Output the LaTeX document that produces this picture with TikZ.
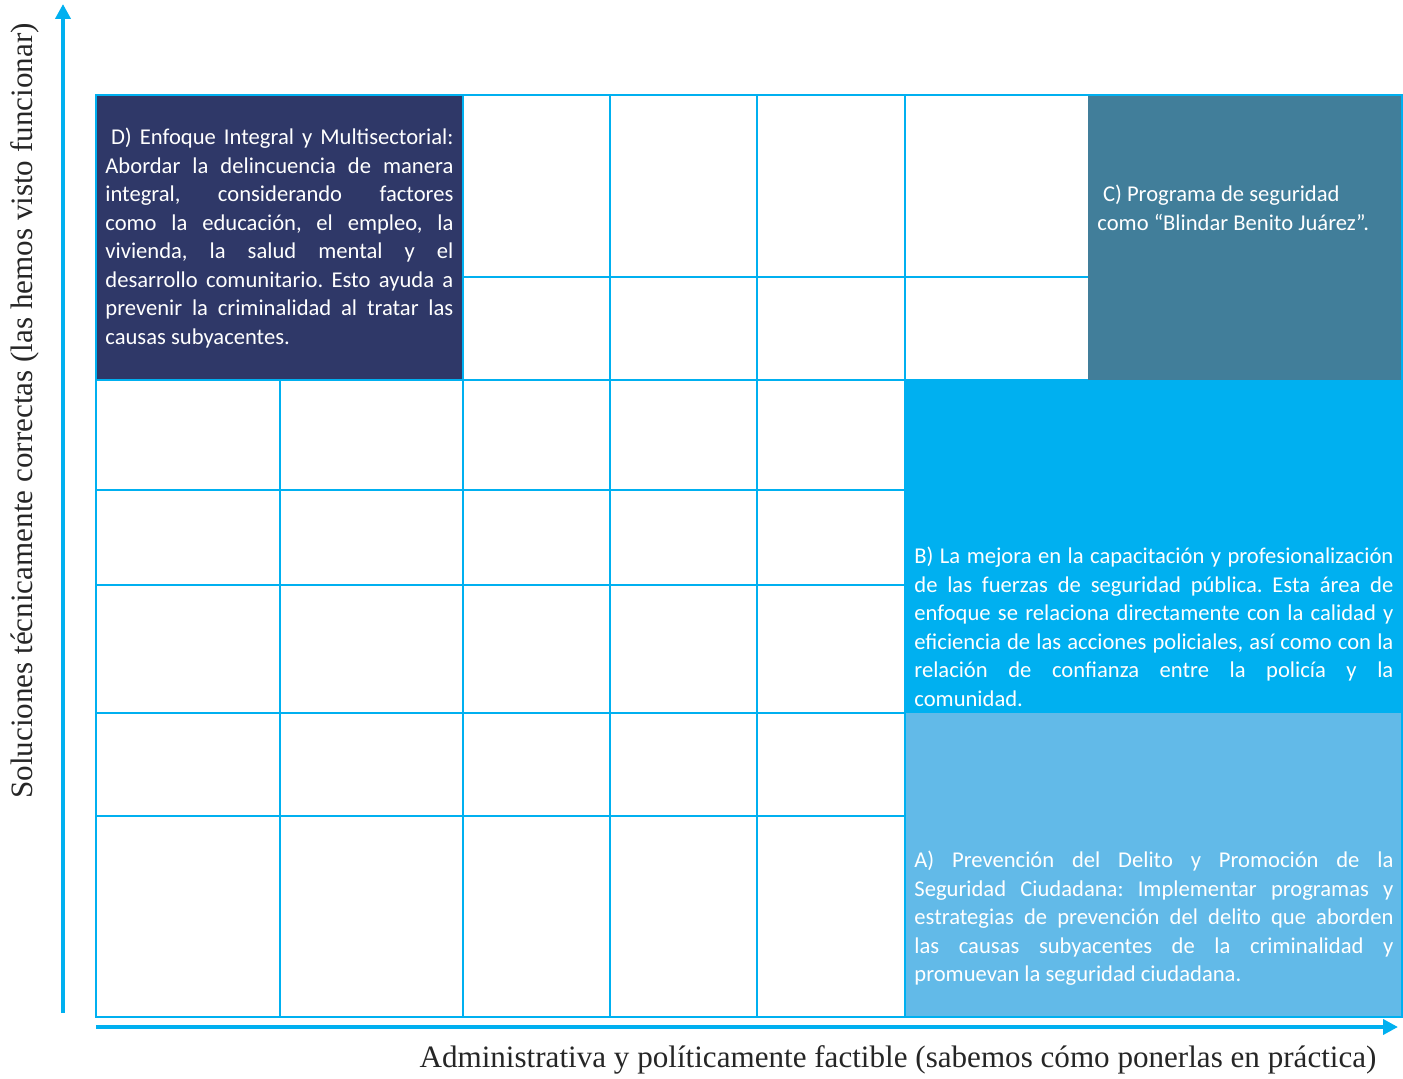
\documentclass[tikz,border=0pt]{standalone}
\usepackage{fontspec}
\setmainfont{Carlito}
\newfontfamily\axisfont{Liberation Serif}
\usetikzlibrary{arrows.meta}
\hyphenpenalty=10000
\exhyphenpenalty=10000
\frenchspacing
\definecolor{gridc}{RGB}{0,176,240}
\definecolor{navyc}{RGB}{47,56,104}
\definecolor{steelc}{RGB}{65,126,154}
\definecolor{lightc}{RGB}{98,186,232}
\tikzset{
  gridline/.style={draw=gridc, line width=1.1pt},
  axisline/.style={draw=gridc, line width=2pt, -{Triangle[length=7.5pt,width=7.5pt]}},
  boxtext/.style={text=white, inner sep=0pt, font=\fontsize{11.3}{14.25}\selectfont},
  axislabel/.style={font=\axisfont\fontsize{15.55}{17}\selectfont, text=black!85, inner sep=0pt}
}
\begin{document}
\begin{tikzpicture}[x=0.5pt,y=-0.5pt]
\useasboundingbox (0,0) rectangle (1403,1079);
% filled areas
\path[fill=navyc] (96,95) rectangle (463,380);
\path[fill=steelc] (1088,95) rectangle (1402,380);
\path[fill=gridc] (905,380) rectangle (1402,713);
\path[fill=lightc] (905,713) rectangle (1402,1017);
% grid lines
\draw[gridline] (280,380) -- (280,1017);
\foreach \x in {463,610,757,905} \draw[gridline] (\x,95) -- (\x,1017);
\draw[gridline] (463,277) -- (1088,277);
\draw[gridline] (96,380) -- (1088,380);
\foreach \y in {490,585,713,816} \draw[gridline] (96,\y) -- (905,\y);
\draw[gridline] (96,95) rectangle (1402,1017);
% texts
\node[boxtext, anchor=north west, text width=174pt, align=justify] (dtext) at (105,128)
 {\hspace*{0.25em}D) Enfoque Integral y Multisectorial:\linebreak Abordar la delincuencia de manera\linebreak integral, considerando factores\linebreak como la educación, el empleo, la\linebreak vivienda, la salud mental y el\linebreak desarrollo comunitario. Esto ayuda a\linebreak prevenir la criminalidad al tratar las\linebreak causas subyacentes.};
\node[boxtext, anchor=north west, align=left] (ctext) at (1097,185)
 {\hspace*{0.25em}C) Programa de seguridad\\como “Blindar Benito Juárez”.};
\node[boxtext, anchor=north west, text width=239.5pt, align=justify] (btext) at (914,547)
 {B) La mejora en la capacitación y profesionalización\linebreak de las fuerzas de seguridad pública. Esta área de\linebreak enfoque se relaciona directamente con la calidad y\linebreak eficiencia de las acciones policiales, así como con la\linebreak relación de confianza entre la policía y la\linebreak comunidad.};
\node[boxtext, anchor=north west, text width=239.5pt, align=justify] (atext) at (914,851)
 {A) Prevención del Delito y Promoción de la\linebreak Seguridad Ciudadana: Implementar programas y\linebreak estrategias de prevención del delito que aborden\linebreak las causas subyacentes de la criminalidad y\linebreak promuevan la seguridad ciudadana.};
% axes
\coordinate (ybot) at (63,1013);
\coordinate (ytop) at (63,4);
\coordinate (xleft) at (96,1027);
\coordinate (xright) at (1398,1027);
\draw[axisline] (ybot) -- (ytop);
\draw[axisline] (xleft) -- (xright);
\node[axislabel, rotate=90] (ylabel) at (25,411) {Soluciones técnicamente correctas (las hemos visto funcionar)};
\node[axislabel] (xlabel) at (898,1060) {Administrativa y políticamente factible (sabemos cómo ponerlas en práctica)};
\end{tikzpicture}
\end{document}
